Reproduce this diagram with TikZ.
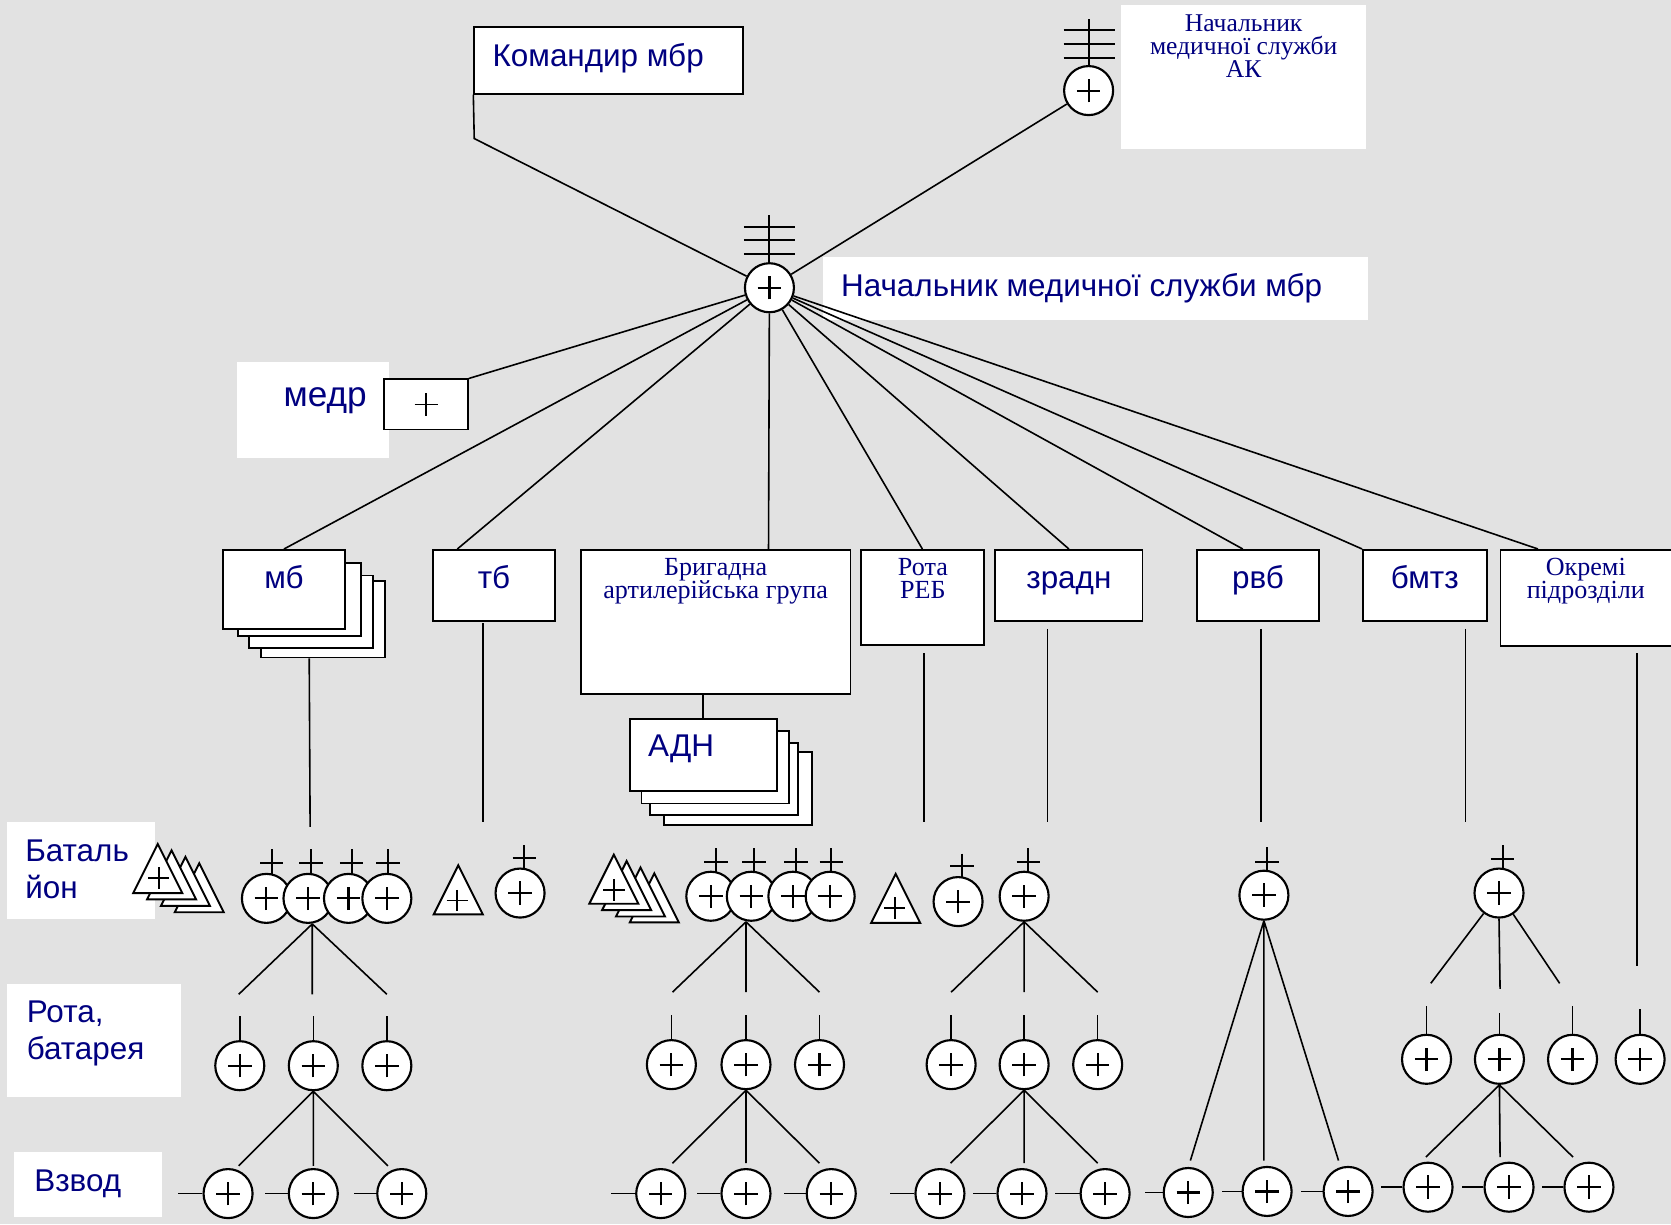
\documentclass[tikz,border=0pt]{standalone}
\usepackage{fontspec}
\setmainfont{Liberation Serif}
\newfontfamily\arialf{Liberation Sans}
\definecolor{navy}{RGB}{0,0,128}
\definecolor{bggray}{RGB}{226,226,226}
\newcommand\mkbox[6]{\node[#1, minimum width={(#5-#3)*1pt}, minimum height={(#6-#4)*1pt}] (#2) at ({(#3+#5)/2},{(#4+#6)/2}) {};}
\newcommand\tri[2]{\draw[sym, fill=white] (#1,#2) -- (#1-23,#2+46) -- (#1+23,#2+46) -- cycle;}
\newcommand\plusat[2]{\draw[sym] (#1-10,#2) -- (#1+10,#2) (#1,#2-10) -- (#1,#2+10);}
\newcommand\flag[4]{\draw[sym] (#1,#2) -- (#1,#4) (#1-11,#3) -- (#1+11,#3);}
\newcommand\triflag[6]{\draw[sym] (#1,#2) -- (#1,#6) (#1-24,#3) -- (#1+24,#3) (#1-24,#4) -- (#1+24,#4) (#1-24,#5) -- (#1+24,#5);}
\newcommand\fan[4]{\draw[ln] (#1) -- (#2) (#1) -- (#3) (#1) -- (#4);}
\begin{document}
\begin{tikzpicture}[x=1pt,y=-1pt,
  ln/.style={line width=1.5pt},
  sym/.style={line width=1.8pt},
  box/.style={draw, fill=white, line width=1.7pt, inner sep=0pt, rectangle},
  lbl/.style={fill=white, inner sep=0pt, rectangle},
  med/.style={circle, draw, fill=white, line width=2pt, minimum size=46pt, inner sep=0pt,
    path picture={\draw[line width=2pt]
      ([xshift=-11pt]path picture bounding box.center) -- ([xshift=11pt]path picture bounding box.center)
      ([yshift=-11pt]path picture bounding box.center) -- ([yshift=11pt]path picture bounding box.center);}},
  sans/.style={font=\arialf\fontsize{29.5}{30}\selectfont, text=navy, inner sep=0pt},
  serif/.style={font=\fontsize{24.5}{22}\selectfont, text=navy, inner sep=0pt},
]
\useasboundingbox (0,0) rectangle (1568,1149);
\fill[bggray] (0,0) rectangle (1568,1149);

% white label areas
\mkbox{lbl}{akl}{1052}{5}{1282}{140}
\mkbox{lbl}{nmsl}{772}{241}{1284}{300}
\mkbox{lbl}{medrl}{222}{340}{365}{430}
\mkbox{lbl}{batl}{7}{771}{145}{862}
\mkbox{lbl}{rotl}{7}{923}{170}{1029}
\mkbox{lbl}{vzl}{13}{1081}{152}{1142}

% top symbols
\node[med] (nms) at (722,270) {};
\node[med] (ak) at (1021.5,85) {};
\triflag{722}{202}{213}{225}{238}{247}
\triflag{1022}{18}{28}{41}{54}{62}

% boxes
\mkbox{box}{kom}{445}{25}{697}{88}
\mkbox{box}{medr}{360}{356}{439}{403}
\mkbox{box}{mbd}{245}{545}{361}{617}
\mkbox{box}{mbc}{234}{540}{350}{608}
\mkbox{box}{mbb}{223}{528}{339}{597}
\mkbox{box}{mb}{209}{516}{324}{590}
\mkbox{box}{tb}{406}{516}{521}{583}
\mkbox{box}{bag}{545}{516}{798}{651}
\mkbox{box}{reb}{808}{516}{923}{605}
\mkbox{box}{zr}{934}{516}{1072}{583}
\mkbox{box}{rvb}{1123}{516}{1238}{583}
\mkbox{box}{bmtz}{1279}{516}{1395}{583}
\mkbox{box}{okr}{1408}{516}{1600}{606}
\mkbox{box}{adnd}{623}{706}{762}{774}
\mkbox{box}{adnc}{610}{697}{749}{765}
\mkbox{box}{adnb}{602}{686}{740}{754}
\mkbox{box}{adn}{591}{675}{729}{742}
\draw[line width=1.5pt] (400-11,379.5) -- (400+11,379.5) (400,369) -- (400,390);

% top connectors
\coordinate (kb) at (445,130);
\draw[ln] (kom.south west) -- (kb) -- (nms);
\draw[ln] (ak) -- (nms);
\draw[ln] (medr.north east) -- (nms);
\draw[ln] (nms) -- (mb.north);
\draw[ln] (nms) -- ([xshift=24pt]tb.north west);
\draw[ln] (nms) -- ([xshift=177pt]bag.north west);
\draw[ln] (nms) -- (reb.north);
\draw[ln] (nms) -- (zr.north);
\draw[ln] (nms) -- ([xshift=44pt]rvb.north west);
\draw[ln] (nms) -- (bmtz.north west);
\draw[ln] (nms) -- ([xshift=36pt]okr.north west);
\draw[ln] ([xshift=115.5pt]bag.south west) -- ([xshift=69.5pt]adn.north west);

% vertical drops
\coordinate (mbe) at (291,776);
\coordinate (tbt) at (453,585);  \coordinate (tbe) at (453,771);
\coordinate (rebt) at (867,613); \coordinate (rebe) at (867,771);
\coordinate (zrt) at (983,590);  \coordinate (zre) at (983,771);
\coordinate (rvbt) at (1183,590); \coordinate (rvbe) at (1183,771);
\coordinate (bmt) at (1375,590); \coordinate (bme) at (1375,771);
\coordinate (okt) at (1536,613); \coordinate (oke) at (1536,906);
\draw[ln] ([xshift=46pt]mbd.south west) -- (mbe);
\draw[ln] (tbt) -- (tbe);
\draw[ln] (rebt) -- (rebe);
\draw[ln] (zrt) -- (zre);
\draw[ln] (rvbt) -- (rvbe);
\draw[ln] (bmt) -- (bme);
\draw[ln] (okt) -- (oke);

% ===== group A (mb)
\tri{187}{810}\tri{174}{804}\tri{161}{798}\tri{148}{792}
\plusat{149}{824}
\flag{255}{797}{810}{820}\flag{292}{797}{810}{820}\flag{330}{797}{810}{820}\flag{364}{797}{810}{820}
\node[med] (a1) at (250,843) {};
\node[med] (a2) at (289,843) {};
\node[med] (a3) at (327,843) {};
\node[med] (a4) at (363,843) {};
\coordinate (afl) at (224,933); \coordinate (afm) at (293,933); \coordinate (afr) at (363,933);
\fan{[xshift=4pt]a2.south}{afl}{afm}{afr}
\node[med] (ra1) at (225,1000) {};
\node[med] (ra2) at (294,1000) {};
\node[med] (ra3) at (363,1000) {};
\draw[ln] (ra1.north) -- ++(0,-23) (ra2.north) -- ++(0,-23) (ra3.north) -- ++(0,-23);
\coordinate (rafl) at (224,1094); \coordinate (rafm) at (294,1094); \coordinate (rafr) at (364,1094);
\fan{ra2.south}{rafl}{rafm}{rafr}
\node[med] (pa1) at (214,1120) {};
\node[med] (pa2) at (294,1120) {};
\node[med] (pa3) at (377,1120) {};
\draw[ln] (pa1.west) -- ++(-23,0) (pa2.west) -- ++(-21,0) (pa3.west) -- ++(-21,0);

% ===== group B (tb)
\tri{430}{812}
\plusat{429}{845}
\flag{492}{793}{805}{815}
\node[med] (b1) at (488,838) {};

% ===== group C (artillery)
\tri{614}{819.5}\tri{601}{814}\tri{588}{808}\tri{576}{802}
\plusat{576}{835}
\flag{672}{796}{809}{818}\flag{707.6}{796}{809}{818}\flag{747}{796}{809}{818}\flag{780}{796}{809}{818}
\node[med] (c1) at (667,841) {};
\node[med] (c2) at (705,841) {};
\node[med] (c3) at (744,841) {};
\node[med] (c4) at (779,841) {};
\coordinate (cfl) at (631,931); \coordinate (cfm) at (700,931); \coordinate (cfr) at (769,931);
\fan{[xshift=-5pt]c2.south}{cfl}{cfm}{cfr}
\node[med] (rc1) at (630,999) {};
\node[med] (rc2) at (700,999) {};
\node[med] (rc3) at (769,999) {};
\draw[ln] (rc1.north) -- ++(0,-23) (rc2.north) -- ++(0,-23) (rc3.north) -- ++(0,-23);
\coordinate (rcfl) at (631,1091.5); \coordinate (rcfm) at (700,1091.5); \coordinate (rcfr) at (769,1091.5);
\fan{rc2.south}{rcfl}{rcfm}{rcfr}
\node[med] (pc1) at (620,1120) {};
\node[med] (pc2) at (700,1120) {};
\node[med] (pc3) at (780,1120) {};
\draw[ln] (pc1.west) -- ++(-23,0) (pc2.west) -- ++(-22,0) (pc3.west) -- ++(-20,0);

% ===== group D (REB)
\tri{840.5}{820}
\plusat{839.5}{852}
\flag{902.5}{801}{813}{823}
\node[med] (d1) at (899,846) {};

% ===== group E (zradn)
\flag{965}{796}{809}{818}
\node[med] (e1) at (961,841) {};
\coordinate (efl) at (892.5,931); \coordinate (efm) at (961,931); \coordinate (efr) at (1030,931);
\fan{e1.south}{efl}{efm}{efr}
\node[med] (re1) at (892.5,999) {};
\node[med] (re2) at (961,999) {};
\node[med] (re3) at (1030,999) {};
\draw[ln] (re1.north) -- ++(0,-23) (re2.north) -- ++(0,-23) (re3.north) -- ++(0,-23);
\coordinate (refl) at (892,1091.5); \coordinate (refm) at (961,1091.5); \coordinate (refr) at (1030,1091.5);
\fan{re2.south}{refl}{refm}{refr}
\node[med] (pe1) at (882,1120) {};
\node[med] (pe2) at (959,1120) {};
\node[med] (pe3) at (1037,1120) {};
\draw[ln] (pe1.west) -- ++(-23,0) (pe2.west) -- ++(-22,0) (pe3.west) -- ++(-23,0);

% ===== group F (rvb)
\flag{1189}{795}{808.5}{817}
\node[med] (f1) at (1186,840) {};
\coordinate (ffl) at (1117,1089); \coordinate (ffm) at (1186,1089); \coordinate (ffr) at (1256,1089);
\fan{f1.south}{ffl}{ffm}{ffr}
\node[med] (pf1) at (1115,1119) {};
\node[med] (pf2) at (1189,1118) {};
\node[med] (pf3) at (1265,1118) {};
\draw[ln] (pf1.west) -- ++(-17,0) (pf2.west) -- ++(-18,0) (pf3.west) -- ++(-20,0);

% ===== group G (bmtz)
\flag{1410}{793}{806}{815}
\node[med] (g1) at (1406.6,838) {};
\coordinate (gfl) at (1342.6,922.7); \coordinate (gfm) at (1407.6,928); \coordinate (gfr) at (1463.5,922.7);
\draw[ln] (g1) -- (gfl) (g1.south) -- (gfm) (g1) -- (gfr);
\node[med] (rg1) at (1338.6,994) {};
\node[med] (rg2) at (1407,994) {};
\node[med] (rg3) at (1475.6,994) {};
\node[med] (rg4) at (1539,994) {};
\draw[ln] (rg1.north) -- ++(0,-26) (rg2.north) -- ++(0,-19) (rg3.north) -- ++(0,-26);
\draw[line width=2.4pt] (rg4.north) -- ++(0,-23);
\coordinate (rgfl) at (1338,1085.7); \coordinate (rgfm) at (1407.6,1085.7); \coordinate (rgfr) at (1476,1085.7);
\fan{rg2.south}{rgfl}{rgfm}{rgfr}
\node[med] (pg1) at (1340,1114) {};
\node[med] (pg2) at (1416,1114) {};
\node[med] (pg3) at (1491,1114) {};
\draw[ln] (pg1.west) -- ++(-20,0) (pg2.west) -- ++(-20,0) (pg3.west) -- ++(-20,0);

% ===== texts
\node[sans, anchor=base west] at (462,62) {Командир мбр};
\node[sans, anchor=base west] at (789,278) {Начальник медичної служби мбр};
\node[sans, anchor=base west, font=\arialf\fontsize{33}{34}\selectfont] at (266,381) {медр};
\node[serif, anchor=north, align=center, font=\fontsize{24}{21.3}\selectfont] at (1167,14) {Начальник\\медичної служби\\АК};
\node[sans, anchor=base] at (266.5,552) {мб};
\node[sans, anchor=base] at (463.5,552) {тб};
\node[serif, anchor=base] at (671.5,540) {Бригадна};
\node[serif, anchor=base] at (671.5,562) {артилерійська група};
\node[serif, anchor=base] at (866,540) {Рота};
\node[serif, anchor=base] at (866,562) {РЕБ};
\node[sans, anchor=base] at (1003,552) {зрадн};
\node[sans, anchor=base] at (1180.5,552) {рвб};
\node[sans, anchor=base] at (1337,552) {бмтз};
\node[serif, anchor=base] at (1488,540) {Окремі};
\node[serif, anchor=base] at (1488,562) {підрозділи};
\node[sans, anchor=base west] at (608,710) {АДН};
\node[sans, anchor=base west] at (23.5,808) {Баталь};
\node[sans, anchor=base west] at (23.5,843) {йон};
\node[sans, anchor=base west] at (25,959) {Рота,};
\node[sans, anchor=base west] at (25,994) {батарея};
\node[sans, anchor=base west] at (32,1118) {Взвод};
\end{tikzpicture}
\end{document}
